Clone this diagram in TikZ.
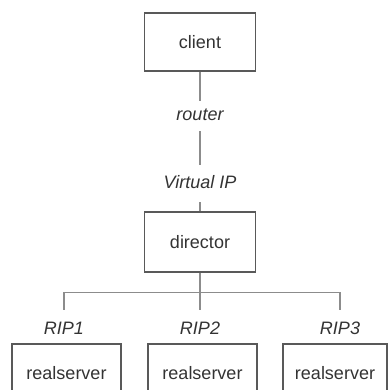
\documentclass[tikz,border=0pt]{standalone}
\usepackage{fontspec}
\setmainfont{Liberation Sans}
\definecolor{boxline}{gray}{0.35}
\definecolor{wire}{gray}{0.55}
\definecolor{ink}{gray}{0.2}
\begin{document}
\begin{tikzpicture}[x=1pt,y=-1pt,
  every node/.style={font=\fontsize{18}{21}\selectfont, text=ink},
  host/.style={draw=boxline, line width=1.3pt, minimum height=58pt, inner sep=0pt},
  tag/.style={font=\fontsize{18}{21}\selectfont\itshape, inner sep=0pt,
              text height=13pt, text depth=4pt, anchor=base},
  link/.style={draw=wire, line width=1.3pt}]
\useasboundingbox (0,0) rectangle (388,390);
\clip (0,0) rectangle (388,390);

% hosts
\node[host, minimum width=111pt] (client)   at (200,42)  {client};
\node[host, minimum width=111pt, minimum height=60pt] (director) at (200,242) {director};
\node[host, minimum width=109pt] (rs1) at (66.5,373) {realserver};
\node[host, minimum width=109pt] (rs2) at (202.5,373) {realserver};
\node[host, minimum width=104pt] (rs3) at (335,373) {realserver};

% addresses
\node[tag, outer ysep=6.5pt] (router) at (200,121) {router};
\node[tag, outer ysep=10pt]  (vip)    at (200,188) {Virtual IP};
\node[tag, outer ysep=11pt]  (rip1)   at (64,334)  {RIP1};
\node[tag, outer ysep=11pt]  (rip2)   at (200,334) {RIP2};
\node[tag, outer ysep=11pt]  (rip3)   at (340,334) {RIP3};

% wiring
\draw[link] (client.south) -- (router.north);
\draw[link] (router.south) -- (vip.north);
\draw[link] (vip.south) -- (director.north);
\draw[link] (director.south) -- ++(0,20) coordinate (bus);
\draw[link] (bus) -| (rip1.north);
\draw[link] (bus) -| (rip3.north);
\draw[link] (bus) -- (rip2.north);
\end{tikzpicture}
\end{document}
